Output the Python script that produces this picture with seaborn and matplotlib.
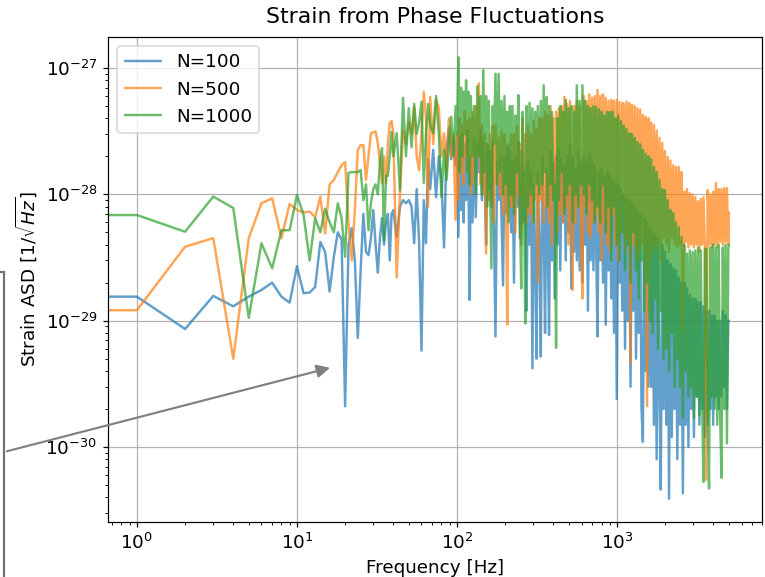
import numpy as np
import matplotlib
matplotlib.use('Agg')
import matplotlib.pyplot as plt
import seaborn as sns
from matplotlib.patches import Rectangle

# Frequencies [Hz] of the sampled points (the 0 Hz bin shows as the flat start)
freq_hz = [
    0, 1, 2, 3, 4, 5, 6, 7, 8, 9,
    10, 11, 12, 13, 14, 15, 16, 17, 18, 19,
    20, 21, 22, 23, 24, 25, 26, 27, 28, 29,
    30, 31, 32, 33, 34, 35, 36, 37, 38, 39,
    40, 42, 44, 46, 48, 50, 52, 54, 56, 58,
    60, 62, 64, 66, 68, 71, 74, 77, 80, 83,
    86, 89, 92, 95, 98,
    100, 102, 104, 106, 108, 110, 112, 114, 116, 118,
    120, 122, 125, 128, 131, 134, 137, 140, 143, 146,
    149, 152, 155, 158, 161, 164, 167, 170, 174, 178,
    182, 186, 190, 194, 198, 202, 206, 210, 214, 218,
    222, 227, 232, 237, 242, 247, 252, 257, 262, 267,
    272, 278, 284, 290, 296, 302, 308, 314, 320, 327,
    334, 341, 348, 355, 362, 369, 376, 384, 392, 400,
    408, 416, 424, 433, 442, 451, 460, 469, 478, 488,
    498, 508, 518, 528, 539, 550, 561, 572, 584, 596,
    608, 620, 632, 645, 658, 671, 684, 698, 712, 726,
    740, 755, 770, 785, 801, 817, 833, 850, 867, 884,
    902, 920, 938, 957, 976, 996, 1016, 1036, 1057, 1078,
    1100, 1122, 1144, 1167, 1190, 1214, 1238, 1263, 1288, 1314,
    1340, 1367, 1394, 1422, 1450, 1479, 1509, 1539, 1570, 1601,
    1633, 1666, 1699, 1733, 1768, 1803, 1839, 1876, 1914, 1952,
    1991, 2031, 2072, 2113, 2155, 2198, 2242, 2287, 2333, 2380,
    2428, 2477, 2527, 2578, 2630, 2683, 2737, 2792, 2848, 2905,
    2963, 3022, 3082, 3144, 3207, 3271, 3336, 3403, 3471, 3540,
    3611, 3683, 3757, 3832, 3909, 3987, 4067, 4148, 4231, 4316,
    4402, 4490, 4580, 4672, 4765, 4860, 4957, 5000,
]

# Strain ASD in units of 1e-30 / sqrt(Hz)
asd_n100 = [
    15.5, 15.5, 8.6, 15.7, 13.0, 15.5, 17.5, 20, 15.5, 13.9,
    27, 16.5, 16.7, 18.5, 42, 35, 17, 32, 50, 44,
    2.1, 40, 54, 30, 7.3, 25, 70, 35, 33, 45,
    75, 40, 24, 45, 65, 40, 60, 70, 30, 70,
    75, 46, 80, 90, 85, 90, 80, 41, 110, 41,
    5.8, 90, 41, 190, 110, 225, 95, 200, 125, 38,
    225, 340, 190, 280, 170,
    300, 46, 280, 75, 300, 60, 250, 90, 320, 120,
    14.6, 200, 60, 280, 66, 250, 150, 330, 90, 260,
    120, 40, 250, 110, 220, 80, 260, 60, 7.5, 180,
    90, 200, 60, 19, 200, 70, 240, 100, 220, 50,
    180, 20, 200, 80, 260, 45, 220, 60, 150, 80,
    12, 180, 40, 150, 4.2, 120, 30, 5, 150, 40,
    5.2, 200, 60, 8, 160, 40, 7.7, 220, 30, 180,
    15, 200, 40, 230, 25, 190, 60, 170, 30, 200,
    50, 250, 18, 200, 35, 160, 30, 220, 25, 180,
    20, 200, 40, 180, 12, 210, 30, 190, 25, 170,
    40, 7.5, 150, 30, 160, 20, 140, 9.3, 150, 25,
    140, 15, 130, 8, 120, 2.4, 120, 20, 110, 12,
    100, 6, 95, 10, 90, 3, 85, 12, 80, 5,
    75, 8, 70, 2, 1.1, 65, 4, 60, 3, 55,
    3, 50, 1.5, 48, 0.8, 45, 3, 0.46, 40, 2,
    35, 1.5, 30, 0.39, 28, 1.2, 26, 2, 25, 0.8,
    22, 1.5, 20, 0.43, 20, 1.5, 18, 1.0, 16, 2,
    15, 1.2, 15, 2.5, 14, 1.5, 14, 2, 13, 1.2,
    12, 1.5, 12, 2, 11, 1.5, 11, 2.5, 10, 2,
    10, 2.5, 12, 3, 11, 2, 10, 10,
]

asd_n500 = [
    12.1, 12.1, 38.5, 45, 5.0, 45, 85, 93, 45, 84,
    75, 72, 73, 66, 96, 49, 120, 130, 150, 170,
    180, 59, 30, 75, 225, 245, 245, 130, 200, 305,
    310, 315, 254, 180, 123, 200, 123, 250, 366, 380,
    305, 22, 100, 323, 250, 373, 300, 490, 200, 155,
    300, 646, 400, 80, 590, 250, 560, 480, 200, 305,
    150, 400, 200, 300, 63,
    300, 90, 400, 150, 350, 120, 450, 200, 380, 150,
    400, 100, 450, 120, 500, 200, 757, 120, 350, 100,
    300, 34, 250, 90, 300, 80, 350, 60, 350, 120,
    280, 100, 320, 70, 300, 120, 9.3, 250, 80, 300,
    80, 300, 50, 350, 100, 250, 40, 400, 80, 300,
    60, 350, 70, 300, 60, 380, 90, 330, 20, 400,
    90, 400, 60, 450, 80, 420, 60, 500, 40, 400,
    100, 450, 50, 480, 70, 500, 60, 590, 80, 520,
    40, 550, 90, 17.5, 500, 60, 550, 80, 500, 40,
    15, 600, 80, 550, 50, 620, 45, 580, 60, 600,
    70, 670, 50, 600, 30, 620, 60, 580, 40, 550,
    35, 560, 70, 550, 40, 560, 30, 540, 50, 530,
    520, 35, 540, 45, 530, 4.6, 510, 40, 500, 35,
    480, 30, 470, 40, 425, 35, 410, 2.1, 400, 30,
    370, 40, 355, 35, 320, 40, 280, 30, 255, 45,
    220, 40, 198, 35, 185, 45, 170, 40, 165, 38,
    165, 40, 150, 8, 105, 42, 110, 38, 102, 40,
    100, 38, 95, 40, 88, 35, 92, 40, 95, 38,
    0.55, 108, 40, 100, 38, 105, 40, 123, 38, 110,
    42, 110, 40, 112, 42, 112, 40, 72,
]

asd_n1000 = [
    68.6, 68.6, 50.6, 96, 78, 10.5, 41, 26, 52, 52,
    99, 69, 30, 65, 50, 77, 60, 50, 85, 65,
    32, 148, 150, 150, 150, 156, 90, 120, 52, 85,
    110, 120, 100, 180, 232, 43, 140, 140, 200, 312,
    200, 305, 108, 580, 200, 480, 236, 520, 300, 370,
    540, 123, 300, 520, 350, 305, 600, 300, 95, 225,
    130, 250, 411, 200, 500,
    300, 1220, 150, 700, 200, 650, 300, 800, 150, 650,
    120, 600, 200, 500, 100, 720, 200, 600, 100, 965,
    150, 600, 80, 550, 120, 26, 500, 250, 900, 120,
    900, 150, 550, 100, 600, 120, 450, 60, 500, 100,
    500, 70, 420, 150, 610, 80, 18, 450, 120, 9.5,
    500, 80, 530, 100, 480, 60, 450, 120, 500, 100,
    550, 120, 730, 150, 590, 80, 500, 120, 450, 90,
    120, 6.1, 400, 90, 500, 150, 450, 70, 560, 100,
    480, 120, 500, 60, 450, 100, 730, 80, 550, 120,
    730, 100, 550, 70, 500, 120, 480, 90, 500, 60,
    490, 80, 470, 60, 450, 120, 420, 50, 450, 80,
    450, 30, 450, 80, 400, 40, 420, 30, 380, 50,
    350, 25, 330, 40, 305, 20, 300, 50, 280, 25,
    260, 15, 250, 30, 225, 12, 210, 20, 200, 10,
    190, 8, 165, 15, 150, 6, 130, 12, 110, 5,
    108, 6, 90, 4, 75, 8, 71, 3, 60, 5,
    55, 3, 46, 1.7, 40, 4, 34, 2.5, 36, 3,
    35, 1.7, 36, 2.5, 38, 1.8, 36, 2.2, 0.53, 37,
    37, 2, 0.47, 38, 2.5, 40, 2, 38, 1.5, 40,
    2, 0.57, 38, 2, 40, 1.07, 38, 40,
]

labels = ['N=100', 'N=500', 'N=1000']

sns.set_style('ticks', {'axes.grid': True, 'grid.color': '#b0b0b0'})
plt.rcParams['font.family'] = ['DejaVu Sans']
plt.rcParams['font.size'] = 12
plt.rcParams['axes.edgecolor'] = 'black'
plt.rcParams['text.color'] = 'black'
plt.rcParams['axes.labelcolor'] = 'black'
plt.rcParams['xtick.color'] = 'black'
plt.rcParams['ytick.color'] = 'black'

fig = plt.figure(figsize=(765 / 110, 577 / 110), dpi=110)
ax = fig.add_axes([0.1412, 0.0953, 0.8549, 0.8406])

colors = sns.color_palette('tab10', 3)
for vals, lab, c in zip([asd_n100, asd_n500, asd_n1000], labels, colors):
    sns.lineplot(x=freq_hz, y=np.array(vals) * 1e-30, ax=ax, color=c,
                 alpha=0.7, lw=1.6, label=lab, sort=False)

ax.set_xscale('log', nonpositive='clip')
ax.set_yscale('log')
ax.set_xlim(0.66, 8050)
ax.set_ylim(2.55e-31, 1.76e-27)
ax.grid(True, which='major', color='#b0b0b0', lw=0.8)
ax.grid(False, which='minor')
ax.set_xlabel('Frequency [Hz]')
ax.set_ylabel(r'Strain ASD [1/$\sqrt{Hz}$]')
ax.set_title('Strain from Phase Fluctuations', pad=9)
ax.legend(loc='upper left')

# pointer from an off-canvas note box to the dip near 20 Hz
box = Rectangle((-0.1, -0.1), 0.1052, 0.6286, transform=fig.transFigure,
                fill=False, ec='#707070', lw=1.4, clip_on=False)
fig.add_artist(box)
ax.annotate('', xy=(16.8, 4.3e-30), xycoords='data',
            xytext=(0.0052, 0.2166), textcoords='figure fraction',
            arrowprops=dict(arrowstyle='-|>', color='gray', lw=1.4,
                            mutation_scale=18),
            annotation_clip=False)

fig.savefig('out.png', dpi=110)
